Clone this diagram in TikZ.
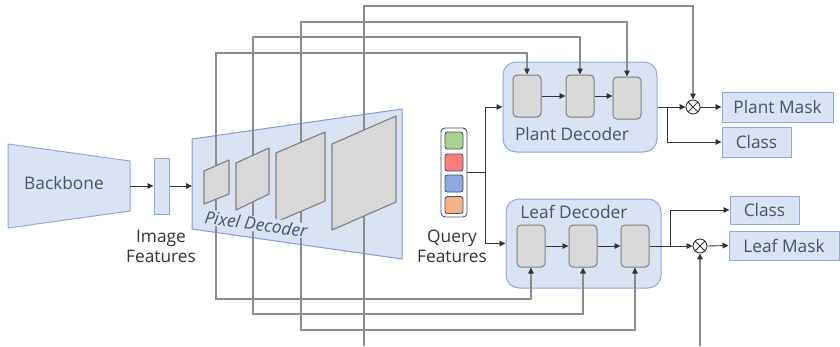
\documentclass[tikz,border=0pt]{standalone}
\usepackage{fontspec}
\setmainfont{Open Sans}
\usetikzlibrary{arrows.meta,calc}
\definecolor{bfill}{HTML}{DAE3F3}
\definecolor{bline}{HTML}{8EAADB}
\definecolor{gfill}{HTML}{D9D9D9}
\definecolor{gline}{HTML}{7F7F7F}
\definecolor{fcol}{HTML}{8C8C8C}
\definecolor{acol}{HTML}{333333}
\definecolor{tcol}{HTML}{44546A}
\definecolor{dcol}{HTML}{333333}
\definecolor{qg}{HTML}{A9D18E}
\definecolor{qr}{HTML}{FF7C7C}
\definecolor{qb}{HTML}{8FAADC}
\definecolor{qo}{HTML}{F4B183}
\begin{document}
\begin{tikzpicture}[x=1pt,y=-1pt,
  every node/.style={font=\fontsize{17.3}{20}\selectfont},
  blu/.style={fill=bfill,draw=bline,line width=1pt},
  outbox/.style={blu,text=tcol,inner sep=0pt,minimum height=30pt},
  dec/.style={blu,rounded corners=13pt,inner sep=0pt},
  blk/.style={draw=gline,fill=gfill,rounded corners=4pt,minimum width=28pt,minimum height=42pt,line width=1pt,inner sep=0pt},
  para/.style={draw=gline,fill=gfill,line width=1.1pt,line join=round},
  arr/.style={draw=acol,line width=0.9pt,-{Triangle[length=6pt,width=5.5pt]}},
  fb/.style={draw=fcol,line width=1.2pt},
  tip/.tip={Triangle[length=6pt,width=5.5pt,color=acol]},
  otimes/.style={circle,draw=acol,line width=0.9pt,minimum size=14pt,inner sep=0pt,
    path picture={\draw[acol,line width=0.9pt] (path picture bounding box.north west) -- (path picture bounding box.south east)
      (path picture bounding box.north east) -- (path picture bounding box.south west);}},
  qsq/.style={draw=tcol,rounded corners=2.5pt,minimum width=18pt,minimum height=17pt,inner sep=0pt,line width=0.9pt},
  lbl/.style={text=dcol,align=center,inner sep=0pt}
]
\useasboundingbox (0,0) rectangle (840,346);

% Backbone
\draw[blu] (8,144) -- (130,161) -- (130,211) -- (8,228) -- cycle;
\node[text=tcol] (bb) at (64,183) {Backbone};
\coordinate (bbR) at (130,186);

% image features
\node[blu,minimum width=15pt,minimum height=56pt,inner sep=0pt] (imf) at (161.5,186) {};
\node[lbl] (imfl) at (161,246) {Image\\Features};

% pixel decoder trapezoid
\draw[blu,draw=bline!90!blue] (192,139) -- (402,109) -- (402,259) -- (192,229) -- cycle;
\coordinate (pdL) at (192,186);

% plant decoder
\node[dec,minimum width=154pt,minimum height=90pt] (pd) at (580,107) {};
\node[text=tcol] (pdt) at (572,134) {Plant Decoder};
\node[blk] (pb1) at (527,96) {};
\node[blk] (pb2) at (580,96) {};
\node[blk] (pb3) at (627,98) {};

% leaf decoder
\node[dec,minimum width=155pt,minimum height=89pt] (ld) at (583.5,243.5) {};
\node[text=tcol] (ldt) at (574,212) {Leaf Decoder};
\node[blk] (lb1) at (531,246) {};
\node[blk] (lb2) at (583,246) {};
\node[blk] (lb3) at (635,246) {};

% query features
\node[draw=tcol,fill=white,rounded corners=4pt,minimum width=26pt,minimum height=89pt,line width=0.9pt,inner sep=0pt] (qf) at (454,172.5) {};
\node[qsq,fill=qg] (q1) at (454,140.5) {};
\node[qsq,fill=qr] (q2) at (454,162.5) {};
\node[qsq,fill=qb] (q3) at (454,183.5) {};
\node[qsq,fill=qo] (q4) at (454,205) {};
\node[lbl] (qfl) at (452,246) {Query\\Features};

% outputs
\node[otimes] (pmx) at (693,107) {};
\node[otimes] (lmx) at (700,246) {};
\node[outbox,minimum width=111pt] (pm) at (777.5,107) {Plant Mask};
\node[outbox,minimum width=69pt] (c1) at (756.5,142) {Class};
\node[outbox,minimum width=69pt,minimum height=28pt] (c2) at (764.5,210) {Class};
\node[outbox,minimum width=110pt,minimum height=29pt] (lm) at (784,245.5) {Leaf Mask};

% black arrows
\draw[arr] (bbR) -- (imf.west);
\draw[arr] (imf.east) -- (pdL);
\draw[arr] (qf.east) -- ++(18,0) |- (pd.west);
\draw[arr] (qf.east) -- ++(18,0) |- (ld.west);
\draw[arr] (pb1.east) -- (pb2.west);
\draw[arr] (pb2.east) -- (pb2.east -| pb3.west);
\draw[arr] (lb1.east) -- (lb2.west);
\draw[arr] (lb2.east) -- (lb3.west);
\draw[arr] (pd.east) -- (pmx.west);
\coordinate (pbr) at ($(pd.east)+(10,0)$);
\draw[arr] (pbr) |- (c1.west);
\draw[arr] (pmx.east) -- (pm.west);
\draw[arr] (lb3.east) -- (lmx.west);
\coordinate (lbr) at (670,246);
\draw[arr] (lbr) |- (c2.west);
\draw[arr] (lmx.east) -- (lm.west);

% feedback lines
\coordinate (ta) at (216,53);  \coordinate (ba) at (216,299);
\coordinate (tb) at (253,37);  \coordinate (bbb) at (253,314);
\coordinate (tc) at (301,22);  \coordinate (bc) at (301,330);
\coordinate (td) at (364,6);   \coordinate (bd) at (364,346);
\coordinate (bot) at (700,346);
\draw[fb,tip-tip] (pb1.north) |- (ta) -- (ba) -| (lb1.south);
\draw[fb,tip-tip] (pb2.north) |- (tb) -- (bbb) -| (lb2.south);
\draw[fb,tip-tip] (pb3.north) |- (tc) -- (bc) -| (lb3.south);
\draw[fb,tip-] (pmx.north) |- (td) -- (bd);
\draw[fb,-tip] (bot) -- (lmx.south);

% pixel decoder feature maps
\draw[para] (204,171) -- (229,160) -- (229,194) -- (204,204) -- cycle;
\draw[para] (236,163) -- (269,148) -- (269,194) -- (236,210) -- cycle;
\draw[para] (276,153) -- (325,132) -- (325,201) -- (276,222) -- cycle;
\draw[para] (332,144) -- (396,116) -- (396,202) -- (332,230) -- cycle;
\node[rotate=-8,text=tcol,fill=bfill,inner sep=1pt,font=\fontsize{17.3}{20}\selectfont\itshape] (pdx) at (256,224) {Pixel Decoder};
\end{tikzpicture}
\end{document}
